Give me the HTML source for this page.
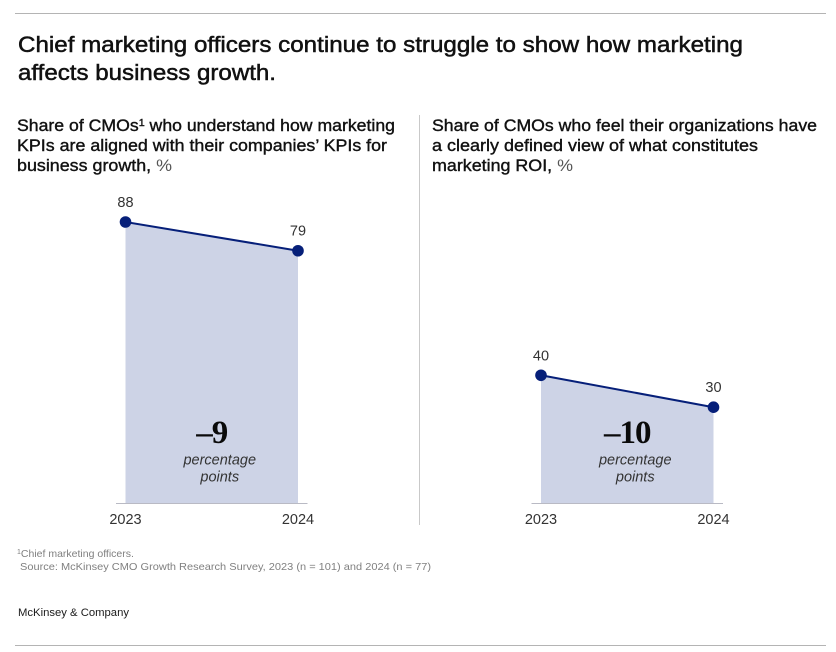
<!DOCTYPE html>
<html lang="en">
<head>
<meta charset="utf-8">
<title>Chief marketing officers chart</title>
<style>
html,body{margin:0;padding:0;background:#fff;width:836px;height:652px;overflow:hidden}
svg{display:block}
text{font-family:"Liberation Sans",sans-serif;fill:#111}
.title{font-size:22px;font-weight:400;stroke:#111;stroke-width:.5px}
.sub{font-size:16.5px;font-weight:400;stroke:#111;stroke-width:.38px}
.sub text{stroke:#111;stroke-width:.38px}
.reg{font-weight:400;fill:#555;stroke:none}
.num{font-size:14.5px;fill:#333;text-anchor:middle}
.delta{font-family:"Liberation Serif",serif;font-size:33px;font-weight:700;text-anchor:middle;fill:#0a0a0a;letter-spacing:-1px}
.pp{font-size:14.5px;font-style:italic;fill:#333;text-anchor:middle}
.foot{font-size:10.5px;fill:#808080}
.brand{font-size:11px;fill:#1a1a1a}
</style>
</head>
<body>
<svg id="chart" xmlns="http://www.w3.org/2000/svg" width="836" height="652" viewBox="0 0 836 652">
  <line x1="15" x2="826" y1="13.5" y2="13.5" stroke="#b4b4b4" stroke-width="1"/>
  <text class="title" x="18" y="52" textLength="725" lengthAdjust="spacingAndGlyphs">Chief marketing officers continue to struggle to show how marketing</text>
  <text class="title" x="18" y="80" textLength="258" lengthAdjust="spacingAndGlyphs">affects business growth.</text>

  <g class="sub">
    <text x="17" y="131" textLength="378" lengthAdjust="spacingAndGlyphs">Share of CMOs<tspan font-size="10" dy="-5">1</tspan><tspan dy="5"> who understand how marketing</tspan></text>
    <text x="17" y="151" textLength="370" lengthAdjust="spacingAndGlyphs">KPIs are aligned with their companies’ KPIs for</text>
    <text x="17" y="171" textLength="155" lengthAdjust="spacingAndGlyphs">business growth, <tspan class="reg">%</tspan></text>
  </g>
  <g class="sub">
    <text x="432" y="131" textLength="385" lengthAdjust="spacingAndGlyphs">Share of CMOs who feel their organizations have</text>
    <text x="432" y="151" textLength="326" lengthAdjust="spacingAndGlyphs">a clearly defined view of what constitutes</text>
    <text x="432" y="171" textLength="141" lengthAdjust="spacingAndGlyphs">marketing ROI, <tspan class="reg">%</tspan></text>
  </g>

  <line x1="419.5" x2="419.5" y1="115" y2="525" stroke="#c9c9c9" stroke-width="1"/>
  <g id="plots"></g>

  <text class="foot" x="17" y="557"><tspan font-size="7" dy="-3">1</tspan><tspan dy="3">Chief marketing officers.</tspan></text>
  <text class="foot" x="20" y="570" textLength="411" lengthAdjust="spacingAndGlyphs">Source: McKinsey CMO Growth Research Survey, 2023 (n = 101) and 2024 (n = 77)</text>
  <text class="brand" x="18" y="616" textLength="111" lengthAdjust="spacingAndGlyphs">McKinsey &amp; Company</text>
  <line x1="15" x2="826" y1="645.5" y2="645.5" stroke="#b4b4b4" stroke-width="1"/>
</svg>
<script>
const years = ['2023', '2024'];
const leftValues = [88, 79];
const rightValues = [40, 30];
const leftDelta = '–9';
const rightDelta = '–10';
const deltaUnit = ['percentage', 'points'];

const NS = 'http://www.w3.org/2000/svg';
const plots = document.getElementById('plots');
const baseY = 503;
const unitPx = 281 / 88;
const yScale = function (v) { return baseY - v * unitPx; };
const xSpan = 172.5;

function make(tag, attrs, parent, text) {
  const el = document.createElementNS(NS, tag);
  Object.keys(attrs).forEach(function (k) { el.setAttribute(k, attrs[k]); });
  if (text !== undefined) el.textContent = text;
  parent.appendChild(el);
  return el;
}

function drawPanel(prefix, x0, values, delta, deltaY) {
  const xScale = function (i) { return x0 + (i / (values.length - 1)) * xSpan; };
  const g = make('g', {}, plots);
  
  

  let d = 'M' + xScale(0) + ' ' + baseY;
  values.forEach(function (v, i) { d += ' L' + xScale(i) + ' ' + yScale(v); });
  d += ' L' + xScale(values.length - 1) + ' ' + baseY + ' Z';
  const area = make('path', { d: d, fill: '#cdd3e6' }, g);
  
  

  const axis = make('line', { x1: x0 - 9.5, x2: x0 + xSpan + 9.5, y1: baseY + 0.5, y2: baseY + 0.5, stroke: '#b9bac4', 'stroke-width': 1 }, g);
  
  

  const pts = values.map(function (v, i) { return xScale(i) + ',' + yScale(v); }).join(' ');
  const line = make('polyline', { points: pts, fill: 'none', stroke: '#061f79', 'stroke-width': 2 }, g);
  
  

  values.forEach(function (v, i) {
    const dot = make('circle', { cx: xScale(i), cy: yScale(v), r: 5.8, fill: '#061f79' }, g);
    
    

    const label = make('text', { x: xScale(i), y: yScale(v) - 15, class: 'num' }, g, String(v));
    
    

    const tick = make('text', { x: xScale(i), y: 524, class: 'num' }, g, years[i]);
    
    
  });

  const cx = x0 + xSpan / 2;
  const big = make('text', { x: cx, y: deltaY, class: 'delta' }, g, delta);
  
  

  deltaUnit.forEach(function (word, i) {
    const t = make('text', { x: cx + 8, y: 464.5 + i * 17, class: 'pp' }, g, word);
    
    
  });
}

drawPanel('left', 125.5, leftValues, leftDelta, 443);
drawPanel('right', 541, rightValues, rightDelta, 443);
</script>
</body>
</html>
